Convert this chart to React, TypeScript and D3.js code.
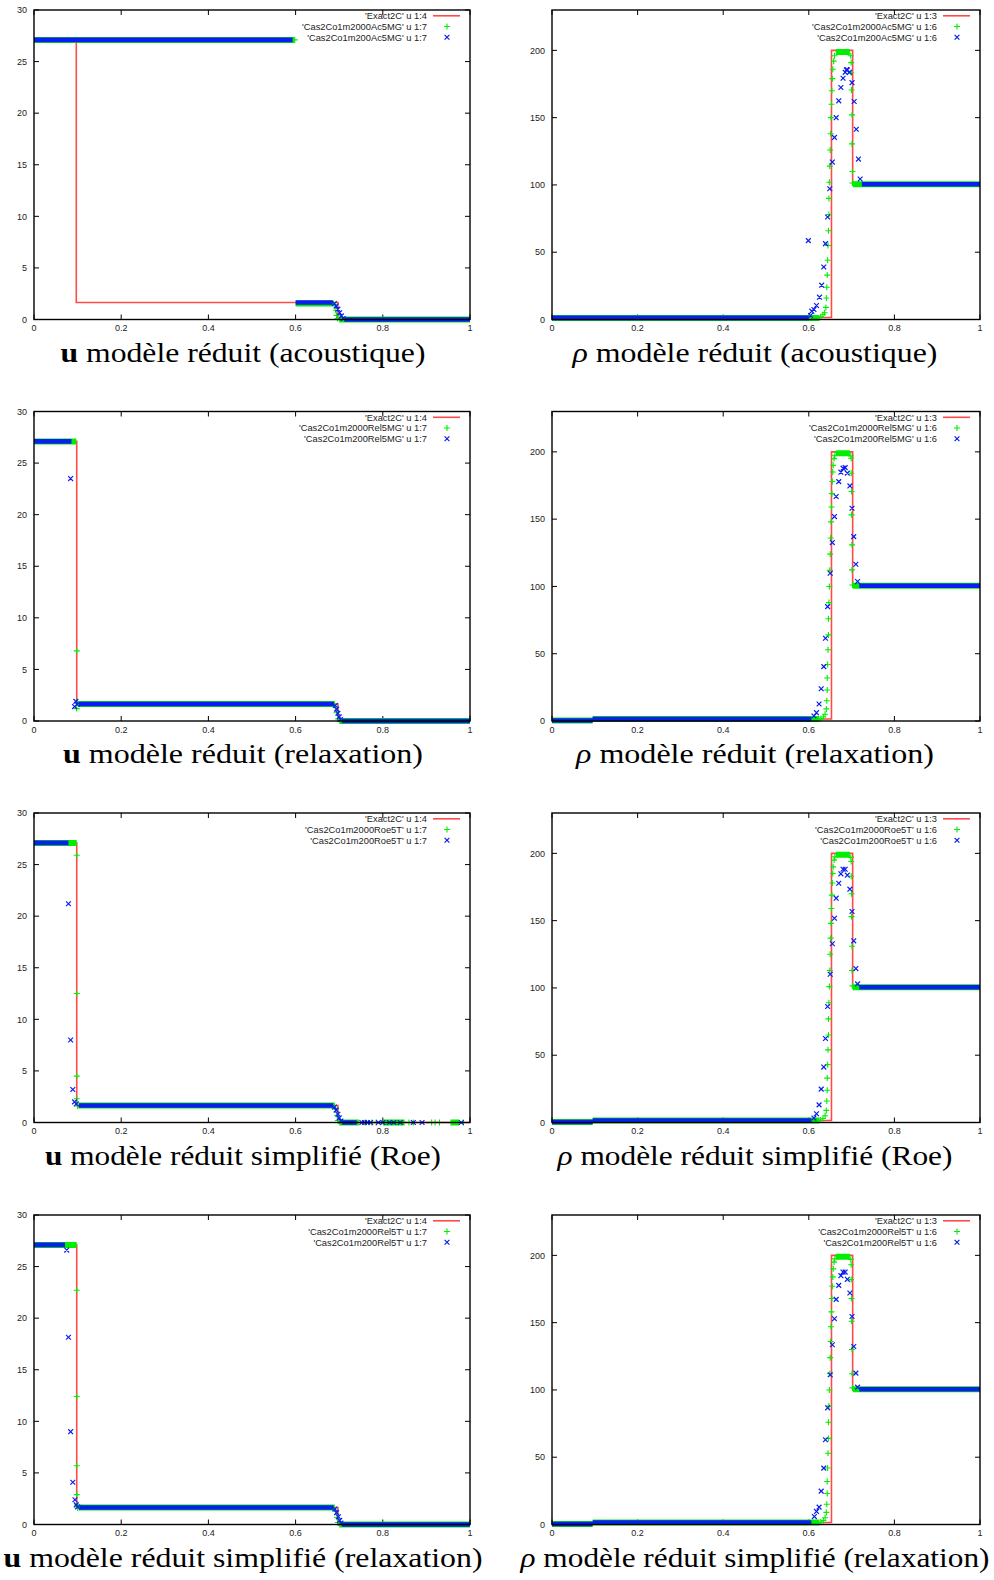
import React from 'react';
import * as d3 from 'd3';

type Pt = [number, number];
type Band = [number, number, number]; // x start, x end, constant value (dense run of points)

// axes
const xTicks = [0, 0.2, 0.4, 0.6, 0.8, 1];
const uTicks = [0, 5, 10, 15, 20, 25, 30];
const rhoTicks = [0, 50, 100, 150, 200];

// ---- u, modèle réduit (acoustique)
const uAcLegend = ["'Exact2C' u 1:4", "'Cas2Co1m2000Ac5MG' u 1:7", "'Cas2Co1m200Ac5MG' u 1:7"];
const uAcExact: Pt[] = [[0, 27.1], [0.097, 27.1], [0.097, 1.65], [0.697, 1.65], [0.697, 0], [1, 0]];
const uAcFineBands: Band[] = [[0, 0.597, 27.1], [0.6, 0.688, 1.55], [0.7, 1, 0]];
const uAcFinePts: Pt[] = [[0.598, 27.1], [0.69, 1.4], [0.692, 0.9], [0.694, 0.4], [0.696, 0.1]];
const uAcCoarseBands: Band[] = [[0, 0.593, 27.1], [0.6, 0.685, 1.65], [0.712, 1, 0]];
const uAcCoarsePts: Pt[] = [[0.689, 1.55], [0.693, 1.3], [0.697, 1.0], [0.701, 0.65], [0.705, 0.35], [0.709, 0.1]];

// ---- u, modèle réduit (relaxation)
const uRelLegend = ["'Exact2C' u 1:4", "'Cas2Co1m2000Rel5MG' u 1:7", "'Cas2Co1m200Rel5MG' u 1:7"];
const uRelExact: Pt[] = [[0, 27.1], [0.098, 27.1], [0.098, 1.65], [0.697, 1.65], [0.697, 0], [1, 0]];
const uRelFineBands: Band[] = [[0, 0.097, 27.1], [0.101, 0.69, 1.65], [0.7, 1, 0]];
const uRelFinePts: Pt[] = [[0.098, 6.8], [0.098, 1.2], [0.1, 1.8], [0.691, 1.4], [0.694, 0.8], [0.697, 0.2]];
const uRelCoarseBands: Band[] = [[0, 0.086, 27.1], [0.103, 0.688, 1.65], [0.706, 1, 0]];
const uRelCoarsePts: Pt[] = [[0.084, 23.5], [0.093, 1.4], [0.096, 1.9], [0.099, 1.6], [0.691, 1.5], [0.694, 1.15], [0.697, 0.75], [0.7, 0.4], [0.703, 0.15]];

// ---- u, modèle réduit simplifié (Roe)
const uRoeLegend = ["'Exact2C' u 1:4", "'Cas2Co1m2000Roe5T' u 1:7", "'Cas2Co1m200Roe5T' u 1:7"];
const uRoeExact: Pt[] = [[0, 27.1], [0.098, 27.1], [0.098, 1.65], [0.697, 1.65], [0.697, 0], [1, 0]];
const uRoeFineBands: Band[] = [[0, 0.098, 27.1], [0.102, 0.69, 1.65], [0.7, 0.745, 0], [0.8, 0.85, 0], [0.955, 0.975, 0]];
const uRoeFinePts: Pt[] = [[0.098, 25.9], [0.098, 12.5], [0.098, 4.5], [0.098, 2.3], [0.1, 1.6], [0.692, 1.3], [0.695, 0.7], [0.697, 0.2],
  [0.76, 0], [0.775, 0], [0.785, 0], [0.86, 0], [0.87, 0], [0.912, 0], [0.92, 0], [0.93, 0], [0.985, 0]];
const uRoeCoarseBands: Band[] = [[0, 0.079, 27.1], [0.103, 0.686, 1.65], [0.706, 0.74, 0]];
const uRoeCoarsePts: Pt[] = [[0.079, 21.2], [0.084, 8.0], [0.089, 3.2], [0.093, 2.0], [0.097, 1.8], [0.689, 1.5], [0.693, 1.2], [0.697, 0.8], [0.7, 0.45], [0.704, 0.15],
  [0.752, 0], [0.758, 0], [0.765, 0], [0.772, 0], [0.79, 0], [0.8, 0], [0.815, 0], [0.825, 0], [0.84, 0], [0.87, 0], [0.89, 0], [0.98, 0]];

// ---- u, modèle réduit simplifié (relaxation)
const uRsrLegend = ["'Exact2C' u 1:4", "'Cas2Co1m2000Rel5T' u 1:7", "'Cas2Co1m200Rel5T' u 1:7"];
const uRsrExact: Pt[] = [[0, 27.1], [0.098, 27.1], [0.098, 1.65], [0.697, 1.65], [0.697, 0], [1, 0]];
const uRsrFineBands: Band[] = [[0, 0.098, 27.1], [0.102, 0.69, 1.65], [0.7, 1, 0]];
const uRsrFinePts: Pt[] = [[0.098, 22.7], [0.098, 12.4], [0.098, 5.7], [0.098, 2.9], [0.099, 1.9], [0.1, 1.6], [0.692, 1.3], [0.695, 0.7], [0.697, 0.2]];
const uRsrCoarseBands: Band[] = [[0, 0.071, 27.1], [0.104, 0.687, 1.65], [0.706, 1, 0]];
const uRsrCoarsePts: Pt[] = [[0.075, 26.6], [0.079, 18.15], [0.084, 9.0], [0.089, 4.1], [0.094, 2.4], [0.097, 1.9], [0.1, 1.7], [0.69, 1.5], [0.694, 1.15], [0.698, 0.75], [0.701, 0.4], [0.704, 0.15]];

// ---- rho, modèle réduit (acoustique)
const rAcLegend = ["'Exact2C' u 1:3", "'Cas2Co1m2000Ac5MG' u 1:6", "'Cas2Co1m200Ac5MG' u 1:6"];
const rAcExact: Pt[] = [[0, 1.5], [0.653, 1.5], [0.653, 200], [0.7025, 200], [0.7025, 100.5], [1, 100.5]];
const rAcFineBands: Band[] = [[0, 0.625, 1.2], [0.663, 0.696, 198.8], [0.703, 1, 100.5]];
const rAcFinePts: Pt[] = [[0.628, 2], [0.633, 3.5], [0.637, 5], [0.64, 9], [0.641, 16], [0.642, 24], [0.643, 33], [0.644, 44], [0.645, 55], [0.646, 66],
  [0.647, 78], [0.647, 90], [0.648, 102], [0.649, 114], [0.65, 126], [0.651, 138], [0.652, 150], [0.653, 160], [0.654, 170], [0.655, 179], [0.656, 186],
  [0.658, 192], [0.66, 196], [0.698, 196], [0.699, 190.9], [0.699, 183.4], [0.7, 170.6], [0.701, 152.1], [0.701, 130.5], [0.702, 110], [0.702, 101.4]];
const rAcCoarseBands: Band[] = [[0, 0.6, 1.2], [0.724, 1, 100.5]];
const rAcCoarsePts: Pt[] = [[0.599, 58.6], [0.604, 3], [0.607, 6.2], [0.612, 7.4], [0.618, 10.4], [0.625, 16.6], [0.63, 25.5], [0.635, 39], [0.639, 56.4],
  [0.644, 76.2], [0.649, 97.2], [0.655, 117], [0.66, 135.3], [0.664, 150], [0.67, 162.5], [0.675, 172.4], [0.68, 179.3], [0.685, 183.7], [0.688, 185.5],
  [0.69, 185.5], [0.695, 183.7], [0.701, 176], [0.706, 162], [0.711, 141.4], [0.716, 119.2], [0.72, 104.4]];

// ---- rho, modèle réduit (relaxation)
const rRelLegend = ["'Exact2C' u 1:3", "'Cas2Co1m2000Rel5MG' u 1:6", "'Cas2Co1m200Rel5MG' u 1:6"];
const rRelExact: Pt[] = [[0, 1.5], [0.653, 1.5], [0.653, 200], [0.7025, 200], [0.7025, 100.5], [1, 100.5]];
const rRelFineBands: Band[] = [[0, 0.095, 0.4], [0.095, 0.625, 1.4], [0.663, 0.696, 199], [0.703, 1, 100.5]];
const rRelFinePts: Pt[] = [[0.628, 1.8], [0.634, 3], [0.638, 5], [0.641, 9], [0.642, 15], [0.643, 23], [0.643, 32], [0.644, 42], [0.645, 53], [0.646, 64],
  [0.646, 76], [0.647, 88], [0.648, 100], [0.649, 112], [0.65, 124], [0.651, 136], [0.652, 148], [0.653, 159], [0.654, 169], [0.655, 178], [0.656, 185],
  [0.657, 190], [0.659, 195], [0.661, 197.5], [0.698, 197], [0.699, 195.3], [0.699, 184.1], [0.7, 170.5], [0.7, 153.2], [0.701, 130.9], [0.701, 112.3], [0.702, 101.1]];
const rRelCoarseBands: Band[] = [[0, 0.095, 0.4], [0.095, 0.606, 1.4], [0.718, 1, 100.5]];
const rRelCoarsePts: Pt[] = [[0.612, 3.7], [0.618, 6.2], [0.624, 12.6], [0.629, 24], [0.635, 40.4], [0.639, 61.5], [0.644, 85], [0.65, 109.8], [0.655, 132.6],
  [0.66, 151.9], [0.664, 166.8], [0.67, 177.9], [0.675, 184.9], [0.68, 187.9], [0.685, 188.3], [0.69, 184.2], [0.696, 174.7], [0.701, 158.1], [0.705, 137],
  [0.71, 116.5], [0.714, 103.6]];

// ---- rho, modèle réduit simplifié (Roe)
const rRoeLegend = ["'Exact2C' u 1:3", "'Cas2Co1m2000Roe5T' u 1:6", "'Cas2Co1m200Roe5T' u 1:6"];
const rRoeExact: Pt[] = [[0, 1.5], [0.653, 1.5], [0.653, 200], [0.7025, 200], [0.7025, 100.5], [1, 100.5]];
const rRoeFineBands: Band[] = [[0, 0.095, 0.4], [0.095, 0.625, 1.4], [0.663, 0.696, 199], [0.703, 1, 100.5]];
const rRoeFinePts: Pt[] = [[0.627, 1.8], [0.633, 3], [0.638, 5], [0.641, 9], [0.642, 16], [0.643, 24], [0.643, 33], [0.644, 43], [0.645, 54], [0.646, 65],
  [0.646, 77], [0.647, 89], [0.648, 101], [0.649, 113], [0.65, 125], [0.651, 137], [0.652, 148], [0.653, 159], [0.654, 169], [0.655, 178], [0.656, 185],
  [0.657, 190], [0.659, 195], [0.661, 197.5], [0.698, 197], [0.699, 194], [0.699, 183], [0.7, 170], [0.7, 153], [0.701, 131], [0.701, 113], [0.702, 101.5]];
const rRoeCoarseBands: Band[] = [[0, 0.095, 0.4], [0.095, 0.606, 1.4], [0.718, 1, 100.5]];
const rRoeCoarsePts: Pt[] = [[0.612, 3.3], [0.618, 6.5], [0.624, 13.1], [0.629, 24.8], [0.635, 41.2], [0.639, 62.4], [0.644, 86.2], [0.65, 110.2], [0.655, 132.8],
  [0.66, 151.8], [0.664, 166.7], [0.67, 177.8], [0.675, 184.8], [0.68, 188.2], [0.685, 188.2], [0.69, 183.8], [0.696, 173.4], [0.701, 156.8], [0.705, 135],
  [0.71, 114.4], [0.714, 103]];

// ---- rho, modèle réduit simplifié (relaxation)
const rRsrLegend = ["'Exact2C' u 1:3", "'Cas2Co1m2000Rel5T' u 1:6", "'Cas2Co1m200Rel5T' u 1:6"];
const rRsrExact: Pt[] = [[0, 1.5], [0.653, 1.5], [0.653, 200], [0.7025, 200], [0.7025, 100.5], [1, 100.5]];
const rRsrFineBands: Band[] = [[0, 0.095, 0.4], [0.095, 0.625, 1.4], [0.663, 0.696, 199], [0.703, 1, 100.5]];
const rRsrFinePts: Pt[] = [[0.628, 1.8], [0.634, 3], [0.638, 5], [0.641, 9], [0.642, 15], [0.643, 23], [0.643, 32], [0.644, 42], [0.645, 53], [0.646, 64],
  [0.646, 76], [0.647, 88], [0.648, 100], [0.649, 112], [0.65, 124], [0.651, 136], [0.652, 147], [0.653, 158], [0.654, 168], [0.655, 177], [0.656, 184],
  [0.657, 190], [0.659, 195], [0.661, 197.5], [0.698, 197], [0.699, 193], [0.699, 182], [0.7, 168], [0.7, 151], [0.701, 130], [0.701, 112], [0.702, 101.5]];
const rRsrCoarseBands: Band[] = [[0, 0.095, 0.4], [0.095, 0.606, 1.4], [0.718, 1, 100.5]];
const rRsrCoarsePts: Pt[] = [[0.613, 5.9], [0.618, 9.7], [0.624, 12.9], [0.629, 24.8], [0.635, 41.9], [0.639, 63], [0.644, 86.7], [0.65, 111.3], [0.655, 133.6],
  [0.66, 152.9], [0.664, 167.3], [0.67, 177.7], [0.675, 184.9], [0.68, 187.6], [0.685, 187.6], [0.69, 182.2], [0.696, 172], [0.701, 154.6], [0.705, 132.3],
  [0.71, 112.5], [0.714, 102.1]];

const titleRest = [' modèle réduit (acoustique)', ' modèle réduit (relaxation)', ' modèle réduit simplifié (Roe)', ' modèle réduit simplifié (relaxation)'];

// layout
const colLeft = [34, 552];
const colWidth = [436, 428];
const rowTop = [10, 411.5, 813, 1215];
const plotH = 309.5;
const titleCx = [243, 755];
const titleLen = [[365, 360, 396, 479], [365, 358, 395, 469]];

const RED = '#ff4a4a';
const GREEN = '#00ee00';
const BLUE = '#0a1ef0';

function plus(x: number, y: number, s = 3) {
  return `M${x - s},${y}H${x + s}M${x},${y - s}V${y + s}`;
}
function cross(x: number, y: number, s = 2.4) {
  return `M${x - s},${y - s}L${x + s},${y + s}M${x - s},${y + s}L${x + s},${y - s}`;
}

function Panel(props: any) {
  const { col, row, yMax, yTicks, exact, fineBands, finePts, coarseBands, coarsePts, legend } = props;
  const left = colLeft[col];
  const top = rowTop[row];
  const w = colWidth[col];
  const x = d3.scaleLinear().domain([0, 1]).range([left, left + w]);
  const y = d3.scaleLinear().domain([0, yMax]).range([top + plotH, top]);
  const line = d3.line<Pt>().x(d => x(d[0])).y(d => y(d[1]));
  const right = left + w;
  const bottom = top + plotH;
  const fmt = d3.format('~g');

  const bandPath = (bands: Band[]) => bands.map(b => `M${x(b[0])},${y(b[2])}H${x(b[1])}`).join('');
  const legY = [top + 5.8, top + 16.5, top + 27.3];

  return (
    <g>
      {/* ticks, mirrored */}
      <g stroke="#000" strokeWidth={1}>
        {xTicks.map(t => (
          <g key={'xt' + t}>
            <line x1={x(t)} x2={x(t)} y1={bottom} y2={bottom - 5} />
            <line x1={x(t)} x2={x(t)} y1={top} y2={top + 5} />
          </g>
        ))}
        {yTicks.map((t: number) => (
          <g key={'yt' + t}>
            <line x1={left} x2={left + 5} y1={y(t)} y2={y(t)} />
            <line x1={right} x2={right - 5} y1={y(t)} y2={y(t)} />
          </g>
        ))}
      </g>
      <g fontFamily="Liberation Sans, Arial, sans-serif" fontSize={9} fill="#222">
        {xTicks.map(t => (
          <text key={'xl' + t} x={x(t)} y={bottom + 11.5} textAnchor="middle">{fmt(t)}</text>
        ))}
        {yTicks.map((t: number) => (
          <text key={'yl' + t} x={left - 7} y={y(t) + 3.2} textAnchor="end">{t}</text>
        ))}
      </g>

      {/* exact solution */}
      <path d={line(exact) || ''} fill="none" stroke={RED} strokeWidth={1.6} />
      {/* fine mesh */}
      <path d={bandPath(fineBands)} stroke={GREEN} strokeWidth={6} fill="none" />
      <path d={finePts.map((p: Pt) => plus(x(p[0]), y(p[1]))).join('')} stroke={GREEN} strokeWidth={1.1} fill="none" />
      {/* coarse mesh */}
      <path d={bandPath(coarseBands)} stroke={BLUE} strokeWidth={4.6} fill="none" />
      <path d={coarsePts.map((p: Pt) => cross(x(p[0]), y(p[1]))).join('')} stroke={BLUE} strokeWidth={1.2} fill="none" />

      {/* legend */}
      <g fontFamily="Liberation Sans, Arial, sans-serif" fontSize={9.3} fill="#222">
        {legend.map((s: string, i: number) => (
          <text key={'lg' + i} x={right - 43} y={legY[i] + 3.3} textAnchor="end">{s}</text>
        ))}
      </g>
      <line x1={right - 37} x2={right - 10} y1={legY[0]} y2={legY[0]} stroke={RED} strokeWidth={1.6} />
      <path d={plus(right - 23, legY[1])} stroke={GREEN} strokeWidth={1.1} />
      <path d={cross(right - 23, legY[2])} stroke={BLUE} strokeWidth={1.2} />

      <rect x={left} y={top} width={w} height={plotH} fill="none" stroke="#000" strokeWidth={1.4} />

      {/* caption */}
      <text x={titleCx[col]} y={bottom + 42} textAnchor="middle" fontFamily="Liberation Serif, Times New Roman, serif"
        fontSize={28} textLength={titleLen[col][row]} lengthAdjust="spacingAndGlyphs" fill="#000">
        {col === 0 ? <tspan fontWeight="bold">u</tspan> : <tspan fontStyle="italic">ρ</tspan>}
        {titleRest[row]}
      </text>
    </g>
  );
}

export default function App() {
  return (
    <svg width={994} height={1580} style={{ position: 'absolute', left: 0, top: 0, background: '#fff' }}>
      <Panel col={0} row={0} yMax={30} yTicks={uTicks} exact={uAcExact} fineBands={uAcFineBands} finePts={uAcFinePts}
        coarseBands={uAcCoarseBands} coarsePts={uAcCoarsePts} legend={uAcLegend} />
      <Panel col={1} row={0} yMax={230} yTicks={rhoTicks} exact={rAcExact} fineBands={rAcFineBands} finePts={rAcFinePts}
        coarseBands={rAcCoarseBands} coarsePts={rAcCoarsePts} legend={rAcLegend} />
      <Panel col={0} row={1} yMax={30} yTicks={uTicks} exact={uRelExact} fineBands={uRelFineBands} finePts={uRelFinePts}
        coarseBands={uRelCoarseBands} coarsePts={uRelCoarsePts} legend={uRelLegend} />
      <Panel col={1} row={1} yMax={230} yTicks={rhoTicks} exact={rRelExact} fineBands={rRelFineBands} finePts={rRelFinePts}
        coarseBands={rRelCoarseBands} coarsePts={rRelCoarsePts} legend={rRelLegend} />
      <Panel col={0} row={2} yMax={30} yTicks={uTicks} exact={uRoeExact} fineBands={uRoeFineBands} finePts={uRoeFinePts}
        coarseBands={uRoeCoarseBands} coarsePts={uRoeCoarsePts} legend={uRoeLegend} />
      <Panel col={1} row={2} yMax={230} yTicks={rhoTicks} exact={rRoeExact} fineBands={rRoeFineBands} finePts={rRoeFinePts}
        coarseBands={rRoeCoarseBands} coarsePts={rRoeCoarsePts} legend={rRoeLegend} />
      <Panel col={0} row={3} yMax={30} yTicks={uTicks} exact={uRsrExact} fineBands={uRsrFineBands} finePts={uRsrFinePts}
        coarseBands={uRsrCoarseBands} coarsePts={uRsrCoarsePts} legend={uRsrLegend} />
      <Panel col={1} row={3} yMax={230} yTicks={rhoTicks} exact={rRsrExact} fineBands={rRsrFineBands} finePts={rRsrFinePts}
        coarseBands={rRsrCoarseBands} coarsePts={rRsrCoarsePts} legend={rRsrLegend} />
    </svg>
  );
}
